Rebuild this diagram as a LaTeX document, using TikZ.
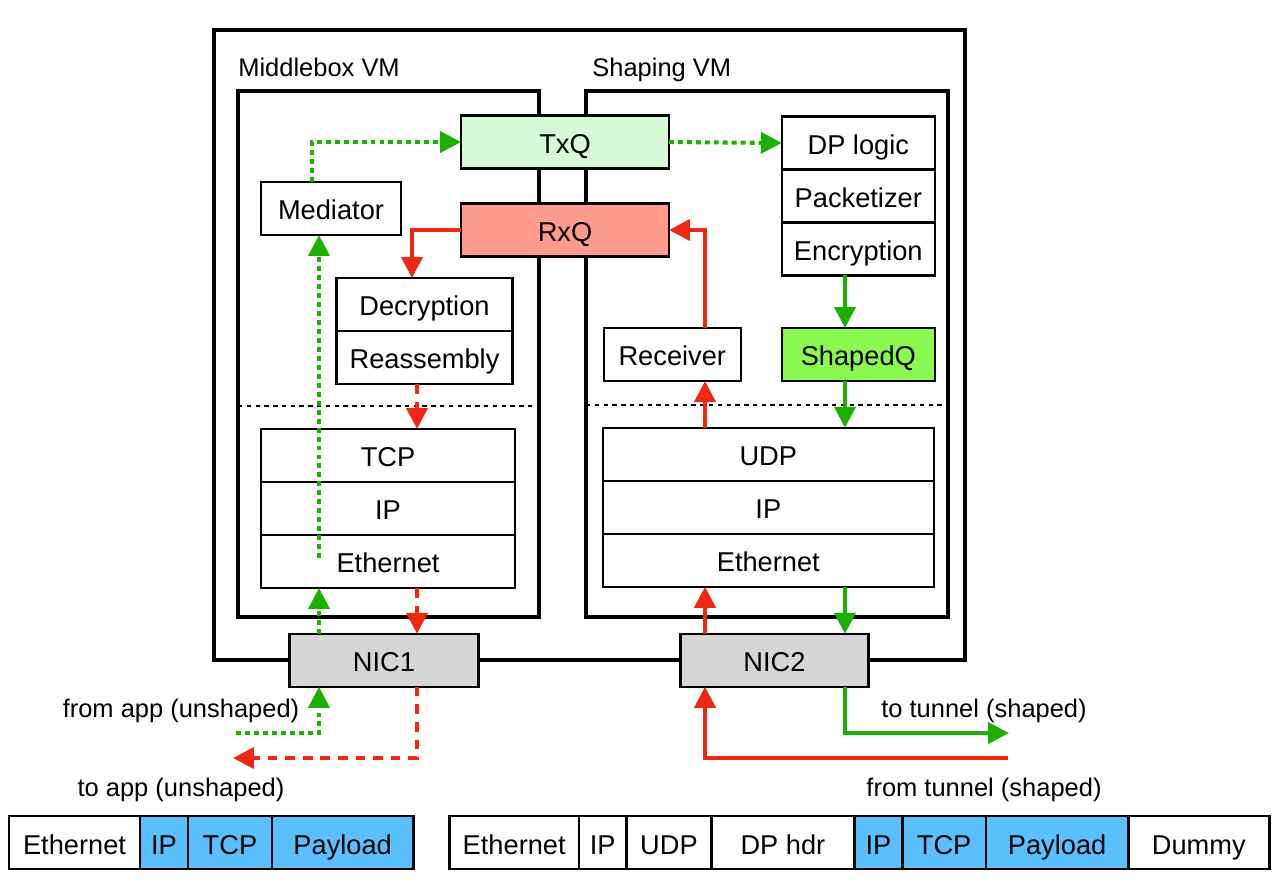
\documentclass[tikz,border=0pt]{standalone}
\usepackage{fontspec}
\setmainfont{Liberation Sans}
\usetikzlibrary{positioning,arrows.meta}
\definecolor{mygreen}{RGB}{30,176,0}
\definecolor{myred}{RGB}{238,40,18}
\definecolor{txfill}{RGB}{214,250,214}
\definecolor{rxfill}{RGB}{255,154,142}
\definecolor{shfill}{RGB}{138,249,80}
\definecolor{nicfill}{RGB}{214,214,214}
\definecolor{pktblue}{RGB}{90,192,253}
\begin{document}
\begin{tikzpicture}[x=0.02cm,y=-0.02cm,
  blk/.style={draw,line width=1.3pt,outer sep=0pt,inner sep=0pt,minimum height=1.06cm,text height=13pt,text depth=0pt,font=\fontsize{15.5}{18}\selectfont},
  pkt/.style={blk,line width=1.4pt},
  lbl/.style={inner sep=0pt,text height=11pt,text depth=0pt,font=\fontsize{14.5}{17}\selectfont},
  arr/.style={-{Triangle[length=0.42cm,width=0.42cm]},line width=2.3pt},
  gdot/.style={arr,mygreen,dash pattern=on 2.8pt off 2.3pt},
  gsol/.style={arr,mygreen},
  rdash/.style={arr,myred,dash pattern=on 5.5pt off 4.5pt},
  rsol/.style={arr,myred}]
  \useasboundingbox (0,0) rectangle (1277,883);
  \draw[line width=2.8pt] (214,30) rectangle (965,660);
  \draw[line width=1.8pt] (238,91) rectangle (539,617);
  \draw[line width=1.8pt] (586,91) rectangle (948,617);
  \draw[line width=0.9pt,dash pattern=on 2.5pt off 2.5pt] (238,406) -- (539,406);
  \draw[line width=0.9pt,dash pattern=on 2.5pt off 2.5pt] (586,405) -- (948,405);
  \node[lbl,anchor=west] (mbl) at (238,67) {Middlebox VM};
  \node[lbl,anchor=west] (shl) at (592,67) {Shaping VM};
  \node[blk,fill=txfill,minimum width=4.16cm] (txq) at (565,142) {TxQ};
  \node[blk,fill=rxfill,minimum width=4.16cm] (rxq) at (565,230) {RxQ};
  \node[blk,minimum width=2.8cm] (med) at (331,208.5) {Mediator};
  \node[blk,minimum width=3.52cm] (dec) at (424.5,304.5) {Decryption};
  \node[blk,minimum width=3.52cm,below=0pt of dec] (rea) {Reassembly};
  \node[blk,minimum width=3.06cm] (dpl) at (858.3,143) {DP logic};
  \node[blk,minimum width=3.06cm,below=0pt of dpl] (pkz) {Packetizer};
  \node[blk,minimum width=3.06cm,below=0pt of pkz] (enc) {Encryption};
  \node[blk,minimum width=2.74cm] (rcv) at (672.3,354.5) {Receiver};
  \node[blk,fill=shfill,minimum width=3.06cm] (shq) at (858.3,354.5) {ShapedQ};
  \node[blk,minimum width=5.08cm] (tcp) at (388,455.5) {TCP};
  \node[blk,minimum width=5.08cm,below=0pt of tcp] (ip1) {IP};
  \node[blk,minimum width=5.08cm,below=0pt of ip1] (eth1) {Ethernet};
  \node[blk,minimum width=6.62cm] (udp) at (768.3,454.3) {UDP};
  \node[blk,minimum width=6.62cm,below=0pt of udp] (ip2) {IP};
  \node[blk,minimum width=6.62cm,below=0pt of ip2] (eth2) {Ethernet};
  \node[blk,fill=nicfill,minimum width=3.78cm] (nic1) at (384,660.3) {NIC1};
  \node[blk,fill=nicfill,minimum width=3.76cm] (nic2) at (774.5,660.3) {NIC2};
  \node[lbl] (fapp) at (181,708) {from app (unshaped)};
  \node[lbl] (tapp) at (181,787) {to app (unshaped)};
  \node[lbl] (ttun) at (984,708) {to tunnel (shaped)};
  \node[lbl] (ftun) at (984,787) {from tunnel (shaped)};
  \node[pkt,minimum width=2.62cm] (e1) at (74.5,842.7) {Ethernet};
  \node[pkt,fill=pktblue,minimum width=0.96cm,right=0pt of e1] (i1) {IP};
  \node[pkt,fill=pktblue,minimum width=1.68cm,right=0pt of i1] (t1) {TCP};
  \node[pkt,fill=pktblue,minimum width=2.83cm,right=0pt of t1] (p1) {Payload};
  \node[pkt,minimum width=2.59cm] (e2) at (514.2,842.7) {Ethernet};
  \node[pkt,minimum width=0.95cm,right=0pt of e2] (i2) {IP};
  \node[pkt,minimum width=1.7cm,right=0pt of i2] (u2) {UDP};
  \node[pkt,minimum width=2.86cm,right=0pt of u2] (d2) {DP hdr};
  \node[pkt,fill=pktblue,minimum width=0.96cm,right=0pt of d2] (i3) {IP};
  \node[pkt,fill=pktblue,minimum width=1.67cm,right=0pt of i3] (t3) {TCP};
  \node[pkt,fill=pktblue,minimum width=2.85cm,right=0pt of t3] (p3) {Payload};
  \node[pkt,minimum width=2.82cm,right=0pt of p3] (y3) {Dummy};
  \coordinate (gd) at (319,558);
  \coordinate (rd) at (417,0);
  \coordinate (gs) at (845,0);
  \coordinate (rs) at (705,0);
  \coordinate (gapp) at (236,733);
  \coordinate (rapp) at (233,758);
  \coordinate (gtun) at (1009,733);
  \coordinate (rtun) at (1008,758);
  \draw[gdot] (gapp) -| (nic1.south -| gd);
  \draw[gdot] (nic1.north -| gd) -- (eth1.south -| gd);
  \draw[gdot] (gd) -- (med.south -| gd);
  \draw[gdot] ([xshift=-0.38cm]med.north) |- (txq.west);
  \draw[gdot] (txq.east) -- (dpl.west);
  \draw[gsol] (enc.south -| gs) -- (shq.north -| gs);
  \draw[gsol] (shq.south -| gs) -- (udp.north -| gs);
  \draw[gsol] (eth2.south -| gs) -- (nic2.north -| gs);
  \draw[gsol] (nic2.south -| gs) |- (gtun);
  \draw[rsol] (rtun) -| (nic2.south -| rs);
  \draw[rsol] (nic2.north -| rs) -- (eth2.south -| rs);
  \draw[rsol] (udp.north -| rs) -- (rcv.south -| rs);
  \draw[rsol] (rcv.north -| rs) |- (rxq.east);
  \draw[rsol] (rxq.west) -| ([xshift=-0.25cm]dec.north);
  \draw[rdash] (rea.south -| rd) -- (tcp.north -| rd);
  \draw[rdash] (eth1.south -| rd) -- (nic1.north -| rd);
  \draw[rdash] (nic1.south -| rd) |- (rapp);
\end{tikzpicture}
\end{document}
